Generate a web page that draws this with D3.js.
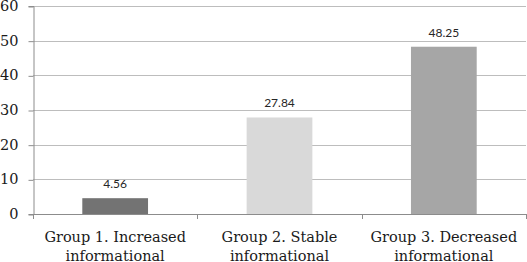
<!DOCTYPE html>
<html>
<head>
<meta charset="utf-8">
<script src="https://cdn.jsdelivr.net/npm/d3@7"></script>
<style>
  body { margin: 0; background: #fff; }
  svg { display: block; }
</style>
</head>
<body>
<div id="chart"></div>
<script>
const categories = [
    ['Group 1. Increased', 'informational'],
    ['Group 2. Stable', 'informational'],
    ['Group 3. Decreased', 'informational']
];
const values = [4.56, 27.84, 48.25];
const barColors = ['#737373', '#d9d9d9', '#a6a6a6'];
const yTicks = [0, 10, 20, 30, 40, 50, 60];

const width = 527, height = 262;
const margin = {top: 6, right: 1, bottom: 48, left: 33};
const innerWidth = width - margin.left - margin.right;
const innerHeight = height - margin.top - margin.bottom;

const svg = d3.select('#chart').append('svg')
    .attr('width', width).attr('height', height);
const g = svg.append('g').attr('transform', `translate(${margin.left},${margin.top})`);

const x = d3.scaleBand().domain(d3.range(values.length)).range([0, innerWidth])
    .paddingInner(0.6).paddingOuter(0.3);
const band = innerWidth / values.length;
const y = d3.scaleLinear().domain([0, 60]).range([innerHeight, 0]);

// gridlines
g.append('g').selectAll('line').data(yTicks.filter(d => d > 0)).join('line')
    .attr('x1', 0).attr('x2', innerWidth)
    .attr('y1', d => Math.round(y(d)) + 0.5).attr('y2', d => Math.round(y(d)) + 0.5)
    .attr('stroke', '#bdbdbd').attr('stroke-width', 1);

// y axis
const yAxis = g.append('g').attr('transform', 'translate(0.5,0)')
    .call(d3.axisLeft(y).tickValues(yTicks).tickSize(5).tickPadding(10));
yAxis.select('.domain').attr('stroke', '#8c8c8c');
yAxis.selectAll('.tick line').attr('stroke', '#8c8c8c')
    .attr('transform', 'translate(0,0.5)');
yAxis.selectAll('.tick text')
    .attr('font-family', '"DejaVu Serif", serif').attr('font-size', 14.5)
    .attr('fill', '#1a1a1a');

// bars
g.selectAll('rect.bar').data(values).join('rect')
    .attr('class', 'bar')
    .attr('x', (d, i) => x(i))
    .attr('width', x.bandwidth())
    .attr('y', d => y(d))
    .attr('height', d => y(0) - y(d))
    .attr('fill', (d, i) => barColors[i]);

// value labels
g.selectAll('text.val').data(values).join('text')
    .attr('class', 'val')
    .attr('x', (d, i) => x(i) + x.bandwidth() / 2)
    .attr('y', d => y(d) - 10)
    .attr('text-anchor', 'middle')
    .attr('font-family', 'Lato, "Noto Sans", sans-serif').attr('font-size', 12)
    .attr('fill', '#262626')
    .text(d => d.toFixed(2));

// x axis line and category ticks
g.append('line').attr('x1', 0).attr('x2', innerWidth)
    .attr('y1', innerHeight + 0.5).attr('y2', innerHeight + 0.5)
    .attr('stroke', '#8c8c8c');
g.append('g').selectAll('line').data(d3.range(values.length + 1)).join('line')
    .attr('x1', i => Math.round(i * band) + 0.5).attr('x2', i => Math.round(i * band) + 0.5)
    .attr('y1', innerHeight).attr('y2', innerHeight + 5)
    .attr('stroke', '#8c8c8c');

// category labels
const cat = g.selectAll('text.cat').data(categories).join('text')
    .attr('class', 'cat')
    .attr('text-anchor', 'middle')
    .attr('font-family', '"DejaVu Serif", serif').attr('font-size', 14.5)
    .attr('fill', '#1a1a1a');
cat.selectAll('tspan').data((d, i) => d.map(t => ({t, i}))).join('tspan')
    .attr('x', d => d.i * band + band / 2)
    .attr('y', (d, j) => innerHeight + 28 + j * 19)
    .text(d => d.t);
</script>
</body>
</html>
